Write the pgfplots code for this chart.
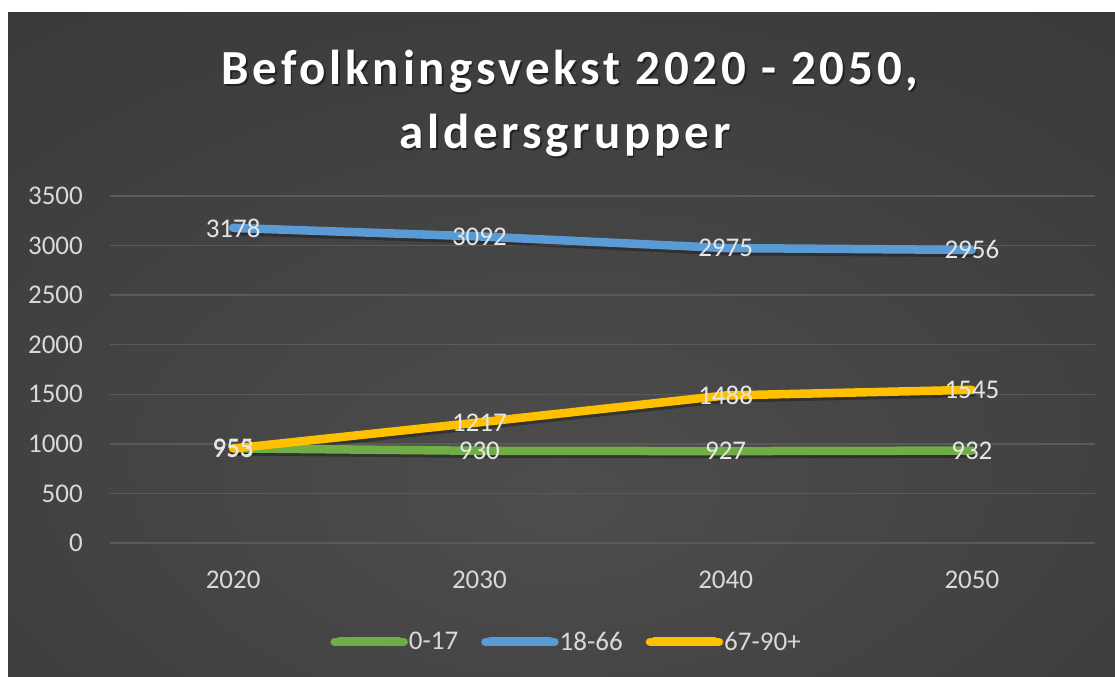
\documentclass[border=0pt]{standalone}
\usepackage{fontspec}
\setmainfont{Carlito}
\newfontfamily\titlefont[LetterSpace=7.8]{Carlito}
\usepackage{pgfplots}
\pgfplotsset{compat=1.18}
\definecolor{cgreen}{HTML}{70AD47}
\definecolor{cblue}{HTML}{5B9BD5}
\definecolor{cyellow}{HTML}{FFC000}
\definecolor{cgrid}{HTML}{5A5A5A}
\definecolor{ctext}{HTML}{D9D9D9}
\definecolor{clabel}{HTML}{E6E6E6}
\definecolor{bgA}{HTML}{4D4D4D}
\definecolor{bgB}{HTML}{373737}
\definecolor{bgC}{HTML}{272727}
\pgfdeclareradialshading{bgshade}{\pgfpoint{0bp}{-12bp}}{color(0bp)=(bgA); color(45bp)=(bgB); color(80bp)=(bgC)}
\begin{document}
\begin{tikzpicture}
\path[use as bounding box, fill=white] (0bp,0bp) rectangle (1115bp,677bp);
\path[shading=bgshade] (8bp,0bp) rectangle (1115bp,664bp);
% title
\node[anchor=base, font=\titlefont\bfseries\fontsize{49bp}{60bp}\selectfont, text=black, opacity=0.45, inner sep=0pt] at (571.5bp,590.5bp) {Befolkningsvekst 2020 - 2050,};
\node[anchor=base, font=\titlefont\bfseries\fontsize{49bp}{60bp}\selectfont, text=white, inner sep=0pt] at (570bp,592bp) {Befolkningsvekst 2020 - 2050,};
\node[anchor=base, font=\titlefont\bfseries\fontsize{49bp}{60bp}\selectfont, text=black, opacity=0.45, inner sep=0pt] at (566.5bp,526.5bp) {aldersgrupper};
\node[anchor=base, font=\titlefont\bfseries\fontsize{49bp}{60bp}\selectfont, text=white, inner sep=0pt] at (565bp,528bp) {aldersgrupper};
\begin{axis}[
  at={(110bp,134bp)}, anchor=south west,
  scale only axis, width=985bp, height=347bp,
  xmin=2015, xmax=2055, ymin=0, ymax=3500,
  xtick={2020,2030,2040,2050}, ytick={0,500,...,3500},
  /pgf/number format/.cd, 1000 sep={}, assume math mode=true, /pgfplots/.cd,
  axis line style={draw=none}, major tick length=0pt,
  ymajorgrids, grid style={color=cgrid, line width=1.5bp},
  tick label style={font=\fontsize{27bp}{30bp}\selectfont, text=ctext, inner sep=0pt},
  yticklabel style={anchor=east, xshift=-27bp},
  xticklabel style={anchor=center, yshift=-37bp},
  clip=false,
  legend style={at={(0.463,-0.285)}, anchor=center, draw=none, fill=none,
    legend columns=3, font=\fontsize{27bp}{30bp}\selectfont, text=ctext,
    /tikz/every odd column/.append style={column sep=0bp},
    /tikz/every even column/.append style={column sep=22bp},
    nodes={inner sep=1bp}},
  legend image code/.code={\path (0bp,0bp) -- (69bp,0bp);\draw[line width=9bp, line cap=round] (4.5bp,0bp) -- (64.5bp,0bp);},
  every axis plot/.append style={line width=8.5bp, line join=round, line cap=round},
]
% shadows
\addplot[forget plot, black, opacity=0.3, transform canvas={xshift=1bp,yshift=-3bp}] coordinates {(2020,955)(2030,930)(2040,927)(2050,932)};
\addplot[forget plot, black, opacity=0.3, transform canvas={xshift=1bp,yshift=-3bp}] coordinates {(2020,3178)(2030,3092)(2040,2975)(2050,2956)};
\addplot[forget plot, black, opacity=0.3, transform canvas={xshift=1bp,yshift=-3bp}] coordinates {(2020,953)(2030,1217)(2040,1488)(2050,1545)};
% lines
\addplot[cgreen] coordinates {(2020,955)(2030,930)(2040,927)(2050,932)};
\addlegendentry{0-17}
\addplot[cblue] coordinates {(2020,3178)(2030,3092)(2040,2975)(2050,2956)};
\addlegendentry{18-66}
\addplot[cyellow] coordinates {(2020,953)(2030,1217)(2040,1488)(2050,1545)};
\addlegendentry{67-90+}
% data labels
\pgfplotsset{every node near coord/.append style={anchor=center, font=\fontsize{27bp}{30bp}\selectfont, text=clabel, inner sep=0pt}}
\addplot[forget plot, draw=none, mark=none, nodes near coords, nodes near coords align=center] coordinates {(2020,955)(2030,930)(2040,927)(2050,932)};
\addplot[forget plot, draw=none, mark=none, nodes near coords, nodes near coords align=center] coordinates {(2020,3178)(2030,3092)(2040,2975)(2050,2956)};
\addplot[forget plot, draw=none, mark=none, nodes near coords, nodes near coords align=center] coordinates {(2020,953)(2030,1217)(2040,1488)(2050,1545)};
\end{axis}
\end{tikzpicture}
\end{document}
